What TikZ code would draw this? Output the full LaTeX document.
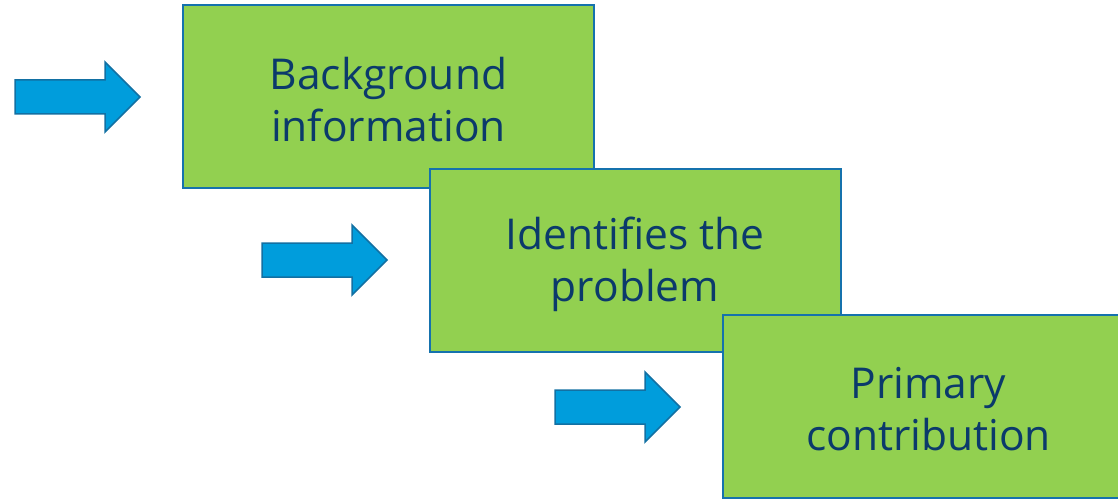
\documentclass[tikz,border=0pt]{standalone}
\usepackage{fontspec}
\setmainfont{Open Sans}
\definecolor{boxgreen}{HTML}{92D050}
\definecolor{boxedge}{HTML}{1572AD}
\definecolor{arrowfill}{HTML}{009DDC}
\definecolor{arrowedge}{HTML}{1270A3}
\definecolor{textnavy}{HTML}{0B3A6B}
\begin{document}
\begin{tikzpicture}[x=1pt,y=-1pt,
  stepbox/.style={rectangle, draw=boxedge, line width=2pt, fill=boxgreen,
    minimum width=411pt, minimum height=183pt, inner sep=0pt},
  steptext/.style={align=center, text=textnavy, inner sep=0pt,
    font=\fontsize{42.5}{52}\selectfont},
  blockarrow/.style={draw=arrowedge, line width=1.5pt, fill=arrowfill, line join=miter}]
\useasboundingbox (0,0) rectangle (1118,500);
\clip (0,0) rectangle (1118,500);
% arrows
\draw[blockarrow] (15,80) -- (105,80) -- (105,62) -- (140,97) -- (105,132) -- (105,114) -- (15,114) -- cycle;
\draw[blockarrow] (262,243) -- (352,243) -- (352,225) -- (387,260) -- (352,295) -- (352,277) -- (262,277) -- cycle;
\draw[blockarrow] (555,390) -- (645,390) -- (645,372) -- (680,407) -- (645,442) -- (645,424) -- (555,424) -- cycle;
% boxes
\node[stepbox] (b1) at (388.5,96.5) {};
\node[steptext] (t1) at ([yshift=-3pt]b1.center) {Background\\information};
\node[stepbox] (b2) at (635,260) {};
\node[steptext] (t2) at ([yshift=-4pt]b2.center) {Identifies the\\problem};
\node[stepbox] (b3) at (928.5,406) {};
\node[steptext] (t3) at ([yshift=-3pt]b3.center) {Primary\\contribution};
\end{tikzpicture}
\end{document}
